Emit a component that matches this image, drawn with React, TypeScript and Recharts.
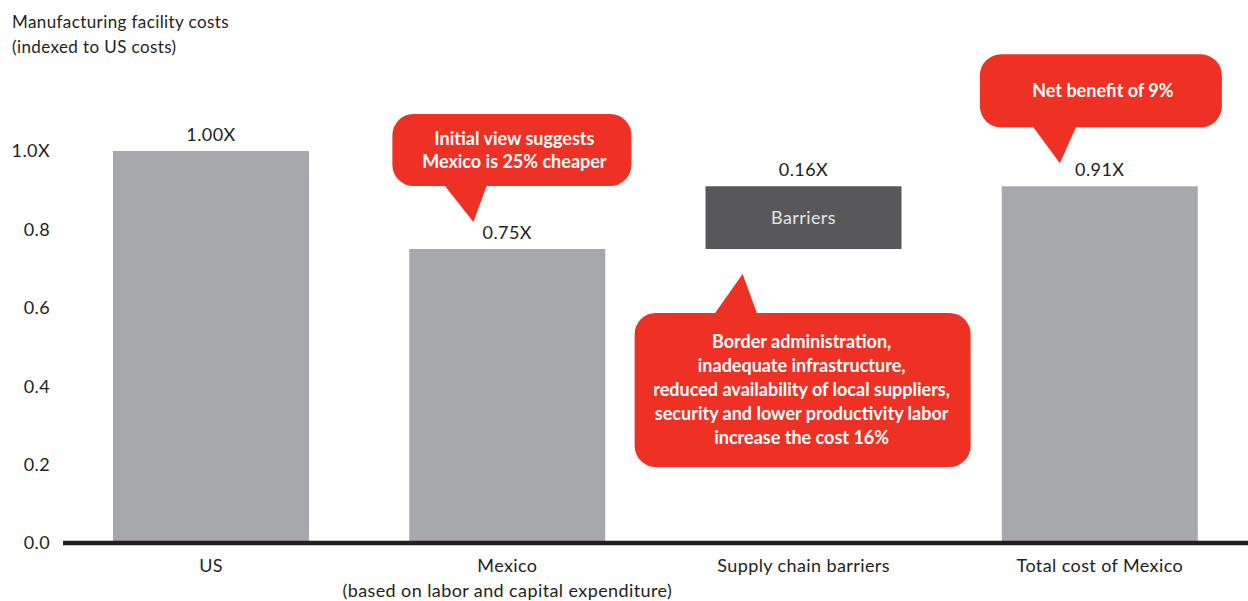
import React from 'react';
import { BarChart, Bar, XAxis, YAxis, Cell, LabelList, ReferenceDot } from 'recharts';

const categories = ['US', 'Mexico', 'Supply chain barriers', 'Total cost of Mexico'];
const categorySubLabels = ['', '(based on labor and capital expenditure)', '', ''];
const baseValues = [0, 0, 0.75, 0];
const barValues = [1.0, 0.75, 0.16, 0.91];
const valueLabels = ['1.00X', '0.75X', '0.16X', '0.91X'];
const innerLabels = ['', '', 'Barriers', ''];
const yTicks = [0, 0.2, 0.4, 0.6, 0.8, 1.0];
const yTickLabels = ['0.0', '0.2', '0.4', '0.6', '0.8', '1.0X'];
const titleLines = ['Manufacturing facility costs', '(indexed to US costs)'];
const calloutMexico = ['Initial view suggests', 'Mexico is 25% cheaper'];
const calloutBarriers = [
  'Border administration,',
  'inadequate infrastructure,',
  'reduced availability of local suppliers,',
  'security and lower productivity labor',
  'increase the cost 16%',
];
const calloutTotal = ['Net benefit of 9%'];

const GRAY = '#a7a8ab';
const DARK = '#58585a';
const RED = '#ee3124';
const INK = '#231f20';
const barColors = [GRAY, GRAY, DARK, GRAY];

const data = categories.map((name, i) => ({
  name,
  base: baseValues[i],
  value: barValues[i],
  label: valueLabels[i],
  inner: innerLabels[i],
}));

const FONT = 'Lato, "Open Sans", sans-serif';
const FS = 18;
const LS = 0.4;

type Geo = {
  box: [number, number, number, number];
  ptr: [number, number, number, number, number, number];
  textX: number;
  textY: number;
  gap: number;
};

const geoMexico: Geo = { box: [-115, -135, 239, 72], ptr: [-64, -65, -20, -65, -34, -27], textX: 7, textY: -104, gap: 23 };
const geoBarriers: Geo = { box: [-169, 64, 336, 154], ptr: [-90, 66, -46, 66, -61, 25], textX: -2, textY: 99, gap: 24 };
const geoTotal: Geo = { box: [-120, -132, 242, 73], ptr: [-68, -61, -23, -61, -40, -23], textX: 3, textY: -89, gap: 24 };

function Callout(props: any) {
  const { cx, cy, geo, lines } = props;
  if (cx == null || cy == null) return null;
  const [bx, by, bw, bh] = geo.box;
  const [p1x, p1y, p2x, p2y, tx, ty] = geo.ptr;
  return (
    <g>
      <rect x={cx + bx} y={cy + by} width={bw} height={bh} rx={21} ry={21} fill={RED} />
      <polygon points={`${cx + p1x},${cy + p1y} ${cx + p2x},${cy + p2y} ${cx + tx},${cy + ty}`} fill={RED} />
      <text
        transform={`translate(${cx + geo.textX},${cy + geo.textY})`}
        fill="#ffffff"
        fontWeight={700}
        fontSize={18}
        textAnchor="middle"
        fontFamily={FONT}
      >
        {lines.map((l: string, i: number) => (
          <tspan key={i} x={0} y={i * geo.gap}>
            {l}
          </tspan>
        ))}
      </text>
    </g>
  );
}

const XTick = (props: any) => {
  const { x, y, payload } = props;
  const i = categories.indexOf(payload.value);
  return (
    <g>
      <text x={x} y={y + 29} textAnchor="middle" fill={INK} fontSize={FS} letterSpacing={LS} fontFamily={FONT}>
        {payload.value}
      </text>
      {categorySubLabels[i] ? (
        <text x={x} y={y + 54} textAnchor="middle" fill={INK} fontSize={FS} letterSpacing={LS} fontFamily={FONT}>
          {categorySubLabels[i]}
        </text>
      ) : null}
    </g>
  );
};

export default function App() {
  return (
    <div style={{ position: 'absolute', left: 0, top: 0, width: 1248, height: 601, background: '#fff', fontFamily: FONT }}>
      <svg width={1248} height={70} style={{ position: 'absolute', left: 0, top: 0 }}>
        {titleLines.map((t, i) => (
          <text key={i} x={12} y={28 + i * 25} fill={INK} fontSize={17} letterSpacing={LS} fontFamily={FONT}>
            {t}
          </text>
        ))}
      </svg>
      <div style={{ position: 'absolute', left: 0, top: 0 }}>
        <BarChart
          width={1248}
          height={601}
          data={data}
          margin={{ top: 151, right: 0, bottom: 0, left: 0 }}
          barSize={196}
        >
          <YAxis
            type="number"
            domain={[0, 1]}
            ticks={yTicks}
            width={63}
            axisLine={false}
            tickLine={false}
            tickSize={0}
            tickMargin={13}
            interval={0}
            tick={{ fill: INK, fontSize: FS, fontFamily: FONT, letterSpacing: LS }}
            tickFormatter={(v: number) => yTickLabels[yTicks.indexOf(v)]}
          />
          <XAxis
            dataKey="name"
            height={58}
            interval={0}
            tickLine={false}
            tickSize={0}
            tickMargin={0}
            axisLine={{ stroke: INK, strokeWidth: 4.5 }}
            tick={<XTick />}
          />
          <Bar dataKey="base" stackId="a" fill="transparent" isAnimationActive={false} />
          <Bar dataKey="value" stackId="a" isAnimationActive={false}>
            {data.map((d, i) => (
              <Cell key={i} fill={barColors[i]} />
            ))}
            <LabelList dataKey="label" position="top" offset={10} fill={INK} fontSize={FS} fontFamily={FONT} letterSpacing={LS} />
            <LabelList dataKey="inner" position="center" fill="#e6e6e6" fontSize={FS} fontFamily={FONT} letterSpacing={LS} />
          </Bar>
          <ReferenceDot
            x={categories[1]}
            y={barValues[1]}
            r={0}
            ifOverflow="visible"
            shape={(p: any) => <Callout cx={p.cx} cy={p.cy} geo={geoMexico} lines={calloutMexico} />}
          />
          <ReferenceDot
            x={categories[2]}
            y={baseValues[2]}
            r={0}
            ifOverflow="visible"
            shape={(p: any) => <Callout cx={p.cx} cy={p.cy} geo={geoBarriers} lines={calloutBarriers} />}
          />
          <ReferenceDot
            x={categories[3]}
            y={barValues[3]}
            r={0}
            ifOverflow="visible"
            shape={(p: any) => <Callout cx={p.cx} cy={p.cy} geo={geoTotal} lines={calloutTotal} />}
          />
        </BarChart>
      </div>
    </div>
  );
}
